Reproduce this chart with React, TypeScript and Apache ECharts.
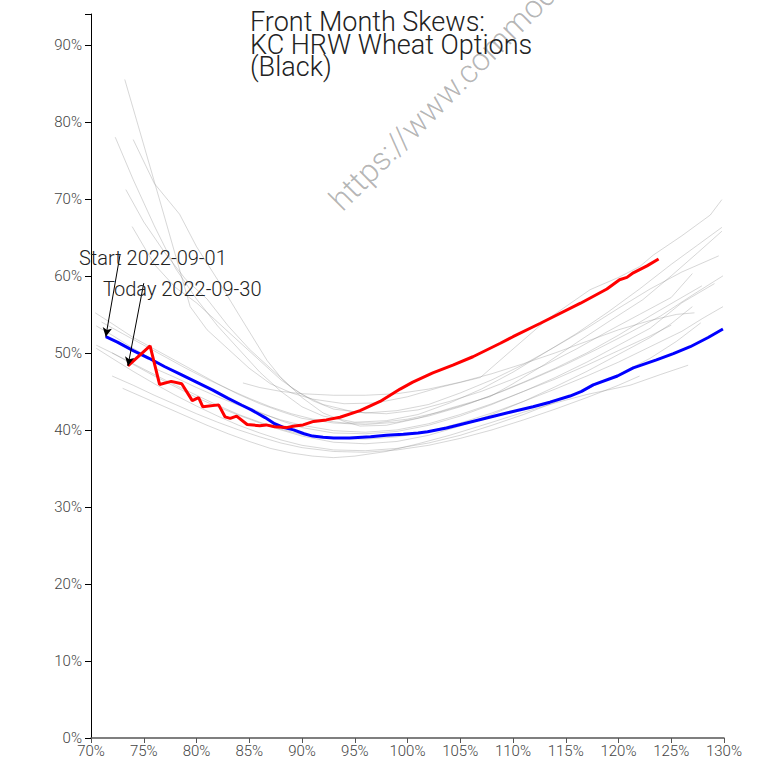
import React, { useEffect, useRef } from "react";
import * as echarts from "echarts";

// ---- data (percent units) ----
const blueX = [71.4, 72.5, 74, 75.5, 77, 78.5, 80, 81.5, 83, 84.3, 85.2, 86.5, 87.4, 88.3, 89.2, 90.2, 91, 92, 93, 94.5, 96.5, 98, 99.6, 101, 101.9, 103.7, 105.6, 107.5, 109.7, 111.9, 113.5, 115.4, 116.5, 117.6, 119.9, 121.4, 123.6, 125.2, 126.8, 128.5, 129.9];
const blueY = [52.1, 51.4, 50.3, 49.3, 48.2, 47.2, 46.2, 45.2, 44.1, 43.2, 42.6, 41.6, 40.8, 40.3, 40.0, 39.5, 39.2, 39.05, 38.95, 38.95, 39.1, 39.3, 39.45, 39.6, 39.75, 40.25, 40.9, 41.55, 42.3, 43.0, 43.6, 44.4, 45.0, 45.85, 47.0, 48.05, 49.1, 49.9, 50.8, 52.0, 53.1];

const redX = [73.5, 75.6, 76.5, 77.6, 78.6, 79.6, 80.2, 80.6, 82.1, 82.7, 83.2, 83.8, 84.8, 86.0, 86.6, 87.4, 88.5, 89.3, 90.1, 91.1, 92.3, 93.6, 95.5, 97.4, 99.3, 100.5, 102.4, 104.3, 106.2, 108.8, 110.0, 112.6, 116.4, 118.9, 120.1, 120.8, 121.4, 122.7, 123.8];
const redY = [48.3, 50.9, 45.9, 46.3, 46.0, 43.8, 44.2, 43.0, 43.25, 41.7, 41.5, 41.8, 40.7, 40.55, 40.65, 40.4, 40.3, 40.5, 40.65, 41.1, 41.3, 41.65, 42.5, 43.7, 45.3, 46.2, 47.4, 48.4, 49.5, 51.25, 52.1, 53.85, 56.45, 58.3, 59.5, 59.8, 60.4, 61.3, 62.2];

// intermediate days of the month, [moneyness %, vol %]
const grayCurves: number[][][] = [
  [[73.2, 85.5], [75, 77], [77, 67.5], [79.4, 56], [81, 53], [83, 50.5], [85, 48], [87, 46], [89, 44.8], [91, 44], [94, 43.4], [97, 43.5], [100, 44.3], [103, 45.5], [106.9, 46.8], [110, 50.5], [113.2, 54.3], [117.3, 58.2], [120, 59.8], [122, 61.2], [123.3, 62.7], [126, 65.2], [128.7, 67.9], [129.8, 69.9]],
  [[72.3, 78], [74, 72.5], [76, 66.5], [78, 61], [80, 57], [82, 53.5], [84, 50.5], [86, 47.5], [88, 45], [90, 43], [92, 41.8], [95, 41], [98, 41.2], [101, 42], [104, 43.5], [107, 45.3], [110, 47.5], [113, 50], [116, 52.5], [119, 55.3], [122, 58.3], [125, 61.5], [127.5, 64], [129.8, 66.3]],
  [[74, 77.7], [76, 72], [78.4, 68], [80, 63.8], [82, 59.5], [84, 55], [86.7, 49], [88, 46.8], [90, 44.2], [92, 42.2], [94, 41.1], [95.5, 40.5], [98, 40.6], [101, 41.5], [104, 42.8], [107.8, 44.3], [110, 46], [113, 48.5], [116, 51.3], [119, 54], [122.3, 56.9], [125, 60], [127.5, 63], [129.8, 65.8]],
  [[73.3, 71.2], [75, 67], [77, 63], [79, 59.5], [81, 57], [83, 53.5], [85, 50.5], [87, 48], [89, 45.5], [91, 43.8], [93, 42.7], [96, 42.2], [99, 42.5], [102, 43.3], [105, 44.8], [108, 46.5], [111, 48.5], [114, 50.8], [117, 53.2], [120, 55.8], [123, 58.3], [126, 60.5], [129.5, 62.6]],
  [[73.9, 66.4], [76, 61.5], [78, 58.5], [80, 56.5], [82, 54], [84, 51.5], [86, 49], [88, 46.5], [90, 44.6], [92, 43.3], [95, 42.3], [98, 42.1], [101, 42.6], [104, 43.7], [107, 45], [110, 46.6], [113, 48.4], [116, 50.5], [119, 52.8], [122, 55], [125, 57.2], [127, 60.3]],
  [[70.4, 55.2], [72, 53.8], [74, 52], [76, 50.5], [78, 49], [80, 47.5], [82, 46], [84, 44.6], [86, 43.4], [88, 42.4], [90, 41.5], [93, 40.9], [96, 40.7], [99, 41], [102, 41.8], [105, 43], [108, 44.5], [111, 46.2], [114, 48], [117, 50], [120, 52.3], [123, 54.8], [125.5, 56.8], [127.9, 58.7]],
  [[70.5, 53.5], [72, 52.3], [74, 50.6], [76, 49], [78, 47.6], [80, 46.2], [82, 44.8], [84, 43.5], [86, 42.3], [88, 41.2], [90, 40.3], [93, 39.6], [96, 39.5], [99, 39.8], [102, 40.6], [105, 41.8], [108, 43.3], [111, 45], [114, 46.8], [117, 48.8], [120, 51], [123, 53.2], [126, 56.5], [129.1, 59]],
  [[70.5, 51], [72, 50], [74, 48.6], [76, 47.2], [78, 45.8], [80, 44.5], [82, 43.2], [84, 42], [86, 41], [88, 40.1], [90, 39.4], [93, 38.9], [96, 38.8], [99, 39.1], [102, 39.8], [105, 40.9], [108, 42.2], [111, 43.7], [114, 45.3], [117, 47], [120, 48.8], [123, 50.8], [126, 52.8], [128, 54.5], [129.9, 56]],
  [[72, 50], [74, 48.5], [76, 47], [78, 45.6], [80, 44.2], [82, 43], [84, 41.9], [86, 40.9], [88, 40], [90, 39.2], [93, 38.4], [96, 38.2], [99, 38.5], [102, 39.3], [105, 40.5], [108, 42], [111, 43.7], [114, 45.6], [117, 47.6], [120, 49.8], [123, 52], [125, 53.8], [127, 56]],
  [[84.4, 46.1], [86, 45.5], [88, 45], [90, 44.7], [93, 44.5], [96, 44.5], [99, 44.7], [102, 45.3], [105, 46.2], [108, 47.3], [111, 48.6], [114, 50], [117, 51.5], [120, 53], [123, 54.2], [125.5, 55], [127.2, 55.2]],
  [[70.5, 50.6], [72, 49.3], [74, 47.6], [76, 46], [78, 44.5], [80, 43.1], [82, 41.8], [84, 40.6], [86, 39.6], [88, 38.7], [90, 38], [93, 37.4], [96, 37.3], [99, 37.6], [102, 38.3], [105, 39.3], [108, 40.6], [111, 42], [114, 43.6], [117, 45.3], [120, 47.2], [123, 49.3], [125.5, 51.5], [127.8, 53.9]],
  [[73, 45.4], [75, 44.2], [77, 43], [79, 41.8], [81, 40.6], [83, 39.5], [85, 38.5], [87, 37.6], [89, 37], [91, 36.6], [93, 36.4], [95, 36.6], [98, 37.2], [101, 38.2], [104, 39.3], [107.8, 40.9], [111, 42.3], [114, 43.5], [117, 44.6], [121.1, 45.8], [124, 47.2], [126.6, 48.4]],
  [[71, 54], [73, 52.5], [75, 51], [77, 49.5], [79, 48], [81, 46.6], [83, 45.3], [85, 44.1], [87, 43], [89, 42.1], [91, 41.4], [94, 40.9], [97, 40.9], [100, 41.4], [103, 42.3], [106, 43.5], [109, 45], [112, 46.7], [115, 48.5], [118, 50.5], [121, 52.6], [124, 54.8], [127, 57.5], [129.9, 60]],
  [[76, 48], [78, 46.8], [80, 45.5], [82, 44.3], [84, 43.2], [86, 42.2], [88, 41.3], [90, 40.6], [93, 39.9], [96, 39.7], [99, 40], [102, 40.8], [105, 42], [108, 43.4], [111, 45], [114, 46.6], [117, 48.4], [120, 50.3], [123, 52.2], [125, 53.6]],
  [[72, 47], [74, 45.8], [76, 44.5], [78, 43.3], [80, 42.1], [82, 41], [84, 40], [86, 39.1], [88, 38.3], [90, 37.7], [93, 37.2], [96, 37.1], [99, 37.4], [102, 38], [105, 38.9], [108, 40], [111, 41.3], [114, 42.7], [117, 44.2], [120, 45.8], [122, 47]],
];

const titleText = "Front Month Skews:\nKC HRW Wheat Options\n(Black)";
const startLabel = "Start 2022-09-01";
const todayLabel = "Today 2022-09-30";
const startArrowFrom = [72.75, 62.7];
const todayArrowFrom = [75.0, 59.05];
const watermark = "https://www.commoditycharts.com";

const FONT = "Roboto, 'Noto Sans', sans-serif";

export default function App() {
  const ref = useRef<HTMLDivElement>(null);
  useEffect(() => {
    document.body.style.margin = "0";
    const chart = echarts.init(ref.current!, null, { renderer: "svg" });
    const zip = (xs: number[], ys: number[]) => xs.map((x, i) => [x, ys[i]]);

    const graySeries = grayCurves.map((c, i) => ({
      type: "line",
      name: "day" + i,
      data: c,
      showSymbol: false,
      symbol: "none",
      silent: true,
      lineStyle: { color: "rgba(140,140,140,0.35)", width: 1 },
      z: 1,
    }));

    const arrow = (from: number[], to: number[]) => ({
      silent: true,
      symbol: ["none", "arrow"],
      symbolSize: [7, 9],
      label: { show: false },
      lineStyle: { color: "#000", width: 1, type: "solid" },
      emphasis: { disabled: true },
      data: [[{ coord: from }, { coord: to }]],
    });

    chart.setOption({
      animation: false,
      backgroundColor: "#fff",
      title: {
        text: titleText,
        left: 245,
        top: 6,
        textStyle: {
          fontFamily: FONT,
          fontSize: 27,
          fontWeight: 300,
          lineHeight: 22.5,
          color: "#222",
        },
      },
      grid: { left: 91, right: 36, top: 14, bottom: 24, containLabel: false },
      xAxis: {
        type: "value",
        min: 70,
        max: 130,
        interval: 5,
        splitLine: { show: false },
        axisLine: { show: true, lineStyle: { color: "#555", width: 1.5 } },
        axisTick: { show: true, length: 5, lineStyle: { color: "#555" } },
        axisLabel: {
          formatter: "{value}%",
          fontFamily: FONT,
          fontSize: 15,
          fontWeight: 300,
          color: "#444",
          margin: 5,
        },
      },
      yAxis: {
        type: "value",
        min: 0,
        max: 94,
        interval: 10,
        splitLine: { show: false },
        axisLine: { show: true, lineStyle: { color: "#000", width: 1 } },
        axisTick: { show: true, length: 6, lineStyle: { color: "#000" } },
        axisLabel: {
          formatter: (v: number) => (v % 10 === 0 ? v + "%" : ""),
          fontFamily: FONT,
          fontSize: 15,
          fontWeight: 300,
          color: "#444",
          margin: 9,
        },
      },
      graphic: [
        {
          type: "text",
          x: 346,
          y: 216,
          rotation: Math.PI / 4,
          z: 0,
          silent: true,
          style: {
            text: watermark,
            fontFamily: FONT,
            fontSize: 32,
            fontWeight: 300,
            fill: "rgba(0,0,0,0.3)",
            align: "left",
            verticalAlign: "bottom",
          },
        },
        {
          type: "text",
          x: 79,
          y: 258,
          z: 100,
          style: {
            text: startLabel,
            fontFamily: FONT,
            fontSize: 20,
            fontWeight: 300,
            fill: "#222",
            align: "left",
            verticalAlign: "middle",
          },
        },
        {
          type: "text",
          x: 103,
          y: 289,
          z: 100,
          style: {
            text: todayLabel,
            fontFamily: FONT,
            fontSize: 20,
            fontWeight: 300,
            fill: "#222",
            align: "left",
            verticalAlign: "middle",
          },
        },
      ],
      series: [
        ...graySeries,
        {
          type: "line",
          name: "Start",
          data: zip(blueX, blueY),
          showSymbol: false,
          symbol: "none",
          lineStyle: { color: "#0000ff", width: 3 },
          z: 3,
          markLine: arrow(startArrowFrom, [blueX[0], blueY[0]]),
        },
        {
          type: "line",
          name: "Today",
          data: zip(redX, redY),
          showSymbol: false,
          symbol: "none",
          lineStyle: { color: "#ff0000", width: 3 },
          z: 4,
          markLine: arrow(todayArrowFrom, [redX[0], redY[0]]),
        },
      ],
    });
    return () => chart.dispose();
  }, []);
  return <div ref={ref} style={{ width: 760, height: 762 }} />;
}
